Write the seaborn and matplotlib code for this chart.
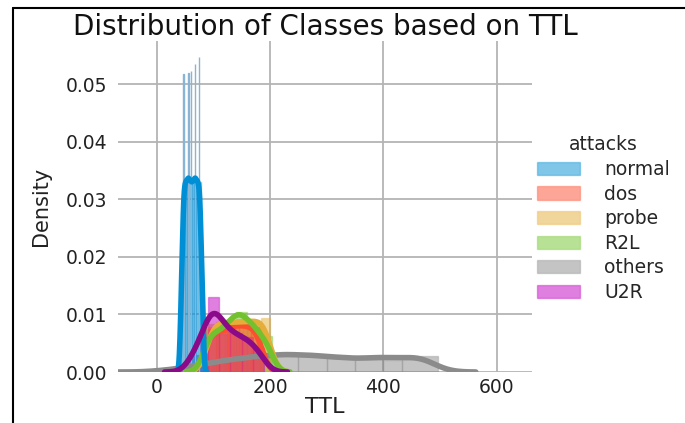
import numpy as np
import pandas as pd
import matplotlib
matplotlib.use("Agg")
import matplotlib.pyplot as plt
from matplotlib.lines import Line2D
import seaborn as sns

# classes (legend order) and colours
attacks = ['normal', 'dos', 'probe', 'R2L', 'others', 'U2R']
fill_colors = ['#008fd5', '#fc4f30', '#e5ae38', '#71c72d', '#8b8b8b', '#c000c0']
line_colors = ['#008fd5', '#fc4f30', '#e5ae38', '#72c12f', '#8b8b8b', '#8a0a8a']

# histogram bins (TTL) and densities
normal_edges = [42, 46, 50, 54, 58, 62, 66, 70, 74, 78, 82]
normal_heights = [0.015, 0.033, 0.033, 0.034, 0.033, 0.033, 0.034, 0.033, 0.033, 0.017]
# the thin tall normal bars
spike_ttl = [47.3, 56.3, 60.3, 68.3, 75.3]
spike_heights = [0.0517, 0.0520, 0.0523, 0.0535, 0.0547]
spike_edges = [47, 47.6, 56, 56.6, 60, 60.6, 68, 68.6, 75, 75.6]
dos_edges = [86, 106, 126, 146, 166, 186]
dos_heights = [0.0078, 0.0066, 0.0082, 0.0080, 0.0078]
probe_edges = [88, 104, 120, 136, 152, 168, 184, 200]
probe_heights = [0.0084, 0.0086, 0.0086, 0.0087, 0.0088, 0.0088, 0.0094]
r2l_edges = [84, 104, 124, 140, 160, 182, 204]
r2l_heights = [0.0075, 0.0066, 0.0084, 0.0104, 0.0088, 0.0062]
others_edges = [0, 50, 100, 150, 200, 250, 300, 350, 400, 432, 497]
others_heights = [0.0004, 0.0012, 0.0021, 0.0027, 0.0031, 0.0029, 0.0025, 0.0022, 0.0021, 0.0028]
u2r_edges = [55, 75, 90, 110, 130, 150, 170, 190]
u2r_heights = [0.003, 0.006, 0.013, 0.008, 0.0068, 0.006, 0.0042]

# kde smoothing per class
bw_adjust = {'normal': 0.35, 'dos': 0.55, 'probe': 0.55, 'R2L': 0.55, 'others': 0.35, 'U2R': 0.6}

edges = {'normal': normal_edges, 'dos': dos_edges, 'probe': probe_edges,
         'R2L': r2l_edges, 'others': others_edges, 'U2R': u2r_edges}
heights = {'normal': normal_heights, 'dos': dos_heights, 'probe': probe_heights,
           'R2L': r2l_heights, 'others': others_heights, 'U2R': u2r_heights}

# one row per bin: bin centre and bar height
rows = []
for a in attacks:
    e = np.array(edges[a])
    for c, hh in zip((e[:-1] + e[1:]) / 2, heights[a]):
        rows.append({'TTL': c, 'attacks': a, 'height': hh})
df = pd.DataFrame(rows)
spikes = pd.DataFrame({'TTL': spike_ttl, 'height': spike_heights})

sns.set_style('white')
plt.rcParams['font.family'] = ['DejaVu Sans']

fig = plt.figure(figsize=(6.85, 4.23), dpi=100)
ax = fig.add_axes([118 / 685, 51 / 423, 414 / 685, 331 / 423])
ax.set_axisbelow(True)
ax.grid(True, color='#b4b4b4', linewidth=1.3)

col = dict(zip(attacks, fill_colors))
lcol = dict(zip(attacks, line_colors))
line_z = {'others': 3.0, 'dos': 3.1, 'probe': 3.2, 'R2L': 3.3, 'normal': 3.4, 'U2R': 3.5}

# bars bottom -> top, each with its own kde scaled to the bars
for a in ['others', 'R2L', 'probe', 'U2R', 'dos', 'normal']:
    sub = df[df['attacks'] == a]
    n_before = len(ax.lines)
    sns.histplot(data=sub, x='TTL', weights='height', bins=edges[a], stat='count',
                 kde=True, kde_kws={'bw_adjust': bw_adjust[a], 'cut': 3},
                 line_kws={'linewidth': 4, 'zorder': line_z[a]},
                 color=col[a], alpha=0.5, edgecolor=matplotlib.colors.to_rgba(col[a], 0.35),
                 linewidth=1, label=a, ax=ax)
    for ln in ax.lines[n_before:]:
        ln.set_color(lcol[a])
    if a == 'normal':
        sns.histplot(data=spikes, x='TTL', weights='height', bins=spike_edges, stat='count',
                     color='#8ab4d4', alpha=0.9, edgecolor='#8ab4d4', linewidth=1, ax=ax)

ax.set_xlim(-68, 662)
ax.set_ylim(0, 0.0575)
ax.set_xticks([0, 200, 400, 600])
ax.set_yticks([0.0, 0.01, 0.02, 0.03, 0.04, 0.05])
ax.set_yticklabels(['0.00', '0.01', '0.02', '0.03', '0.04', '0.05'])
ax.tick_params(axis='both', length=0, labelsize=13.5, colors='#222222')
ax.tick_params(axis='y', pad=8)
ax.tick_params(axis='x', pad=4)
for s in ax.spines.values():
    s.set_visible(False)
ax.set_xlabel('TTL', fontsize=16, color='#222222', labelpad=0)
ax.set_ylabel('Density', fontsize=15, color='#222222', labelpad=10)
ax.set_title('Distribution of Classes based on TTL', fontsize=20, pad=4, color='#111111')

handles, labels = ax.get_legend_handles_labels()
order = [labels.index(a) for a in attacks]
leg = fig.legend([handles[i] for i in order], attacks, title='attacks',
                 loc='center left', bbox_to_anchor=(520 / 685, 0.483), frameon=False,
                 fontsize=13.5, title_fontsize=13.5, handlelength=2.3, handleheight=0.7,
                 labelspacing=0.3, handletextpad=1.3)

# screenshot frame (top and left edges)
fig.add_artist(Line2D([13 / 685, 1], [1 - 8 / 423, 1 - 8 / 423], transform=fig.transFigure,
                      color='black', linewidth=1.5))
fig.add_artist(Line2D([13 / 685, 13 / 685], [0, 1 - 8 / 423], transform=fig.transFigure,
                      color='black', linewidth=1.5))

fig.savefig('out.png', dpi=100)
